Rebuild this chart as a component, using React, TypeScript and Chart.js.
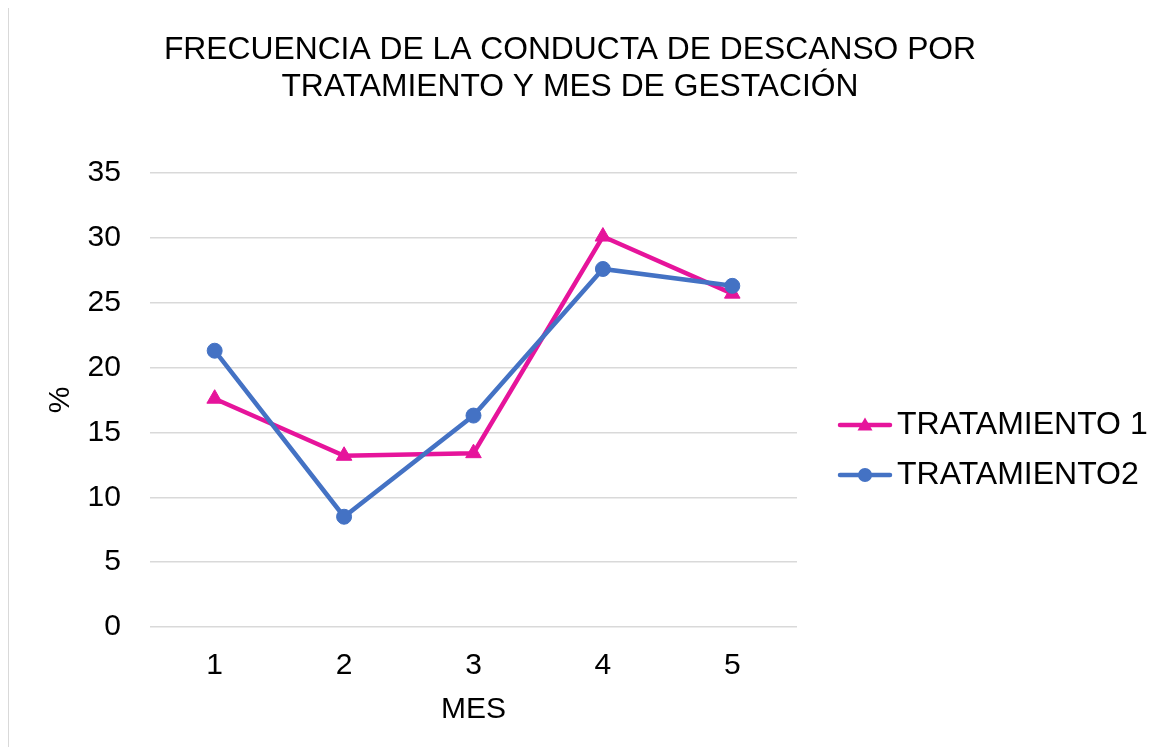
import React, { useEffect, useRef } from 'react';
import { Chart, registerables } from 'chart.js';

Chart.register(...registerables);

// ---- data ----
const months = ['1', '2', '3', '4', '5'];
const seriesNames = ['TRATAMIENTO 1', 'TRATAMIENTO2'];
const tratamiento1 = [17.6, 13.2, 13.4, 30.1, 25.7];
const tratamiento2 = [21.3, 8.5, 16.3, 27.6, 26.3];
const yMin = 0;
const yMax = 35;
const yStep = 5;
const titleLines = ['FRECUENCIA DE LA CONDUCTA DE DESCANSO POR', 'TRATAMIENTO Y MES DE GESTACIÓN'];
const xTitle = 'MES';
const yTitle = '%';

const PINK = '#E6149B';
const BLUE = '#4472C4';
const FONT = '"Liberation Sans", Arial, sans-serif';

function makeSample(color: string, style: string): HTMLCanvasElement {
  const c = document.createElement('canvas');
  c.width = 90;
  c.height = 20;
  const g = c.getContext('2d') as CanvasRenderingContext2D;
  g.strokeStyle = color;
  g.lineWidth = 4.5;
  g.lineCap = 'round';
  g.beginPath();
  g.moveTo(37, 10);
  g.lineTo(87, 10);
  g.stroke();
  g.fillStyle = color;
  g.beginPath();
  if (style === 'triangle') {
    g.moveTo(62, 2.5);
    g.lineTo(69.5, 15.5);
    g.lineTo(54.5, 15.5);
    g.closePath();
  } else {
    g.arc(62, 10, 7, 0, Math.PI * 2);
  }
  g.fill();
  return c;
}

// shifts the centred chart title so that it sits where the reference has it
const titleShift = {
  id: 'titleShift',
  afterLayout(chart: any) {
    const t = chart.titleBlock;
    if (t) {
      t.left -= 28;
      t.right -= 28;
    }
  },
};

export default function App() {
  const ref = useRef<HTMLCanvasElement>(null);

  useEffect(() => {
    if (!ref.current) return;
    const samples = [makeSample(PINK, 'triangle'), makeSample(BLUE, 'circle')];
    const chart = new Chart(ref.current, {
      type: 'line',
      data: {
        labels: months,
        datasets: [
          {
            label: seriesNames[0],
            data: tratamiento1,
            borderColor: PINK,
            backgroundColor: PINK,
            borderWidth: 4.5,
            pointStyle: 'triangle',
            pointRadius: 9,
            pointBackgroundColor: PINK,
            pointBorderColor: PINK,
            pointBorderWidth: 1,
            tension: 0,
            order: 2,
          },
          {
            label: seriesNames[1],
            data: tratamiento2,
            borderColor: BLUE,
            backgroundColor: BLUE,
            borderWidth: 4.5,
            pointStyle: 'circle',
            pointRadius: 7.5,
            pointBackgroundColor: BLUE,
            pointBorderColor: BLUE,
            pointBorderWidth: 1,
            tension: 0,
            order: 1,
          },
        ],
      },
      options: {
        responsive: false,
        animation: false,
        devicePixelRatio: 1,
        layout: { padding: { left: 30, right: 12, top: 0, bottom: 0 } },
        plugins: {
          title: {
            display: true,
            text: titleLines,
            color: '#000',
            font: { family: FONT, size: 31.8, weight: 'normal', lineHeight: 36.7 / 31.8 },
            padding: { top: 24, bottom: 67.6 },
          },
          legend: {
            position: 'right',
            align: 'center',
            maxWidth: 360,
            labels: {
              usePointStyle: true,
              pointStyleWidth: 66,
              padding: 18,
              color: '#000',
              font: { family: FONT, size: 32 },
              sort: (a: any, b: any) => a.datasetIndex - b.datasetIndex,
              generateLabels: (ch: any) => {
                const items = Chart.defaults.plugins.legend.labels.generateLabels(ch);
                return items.map((it: any) => ({ ...it, pointStyle: samples[it.datasetIndex] }));
              },
            },
          },
          tooltip: { enabled: false },
        },
        scales: {
          x: {
            offset: true,
            grid: { color: 'rgba(0,0,0,0)', drawTicks: true, tickLength: 21, tickColor: 'rgba(0,0,0,0)' },
            border: { display: false },
            ticks: { padding: 0, color: '#000', font: { family: FONT, size: 30, lineHeight: 1.2 } },
            title: {
              display: true,
              text: xTitle,
              color: '#000',
              font: { family: FONT, size: 30, lineHeight: 1.2 },
              padding: { top: 8, bottom: 164 },
            },
          },
          y: {
            min: yMin,
            max: yMax,
            ticks: { stepSize: yStep, padding: 3, color: '#000', font: { family: FONT, size: 30, lineHeight: 1.2 } },
            grid: { color: '#d9d9d9', lineWidth: 1.5, drawTicks: true, tickLength: 26, tickColor: 'rgba(0,0,0,0)' },
            border: { display: false },
            title: {
              display: true,
              text: yTitle,
              color: '#000',
              font: { family: FONT, size: 30, lineHeight: 1.2 },
              padding: { top: 4, bottom: 5.6 },
            },
          },
        },
      },
      plugins: [titleShift],
    } as any);
    return () => chart.destroy();
  }, []);

  return (
    <div
      style={{
        border: '1px solid #d9d9d9',
        borderBottom: 'none',
        marginTop: -1,
        width: 1160,
        height: 739,
        overflow: 'hidden',
        background: '#fff',
      }}
    >
      <canvas ref={ref} width={1160} height={884} style={{ display: 'block' }} />
    </div>
  );
}
